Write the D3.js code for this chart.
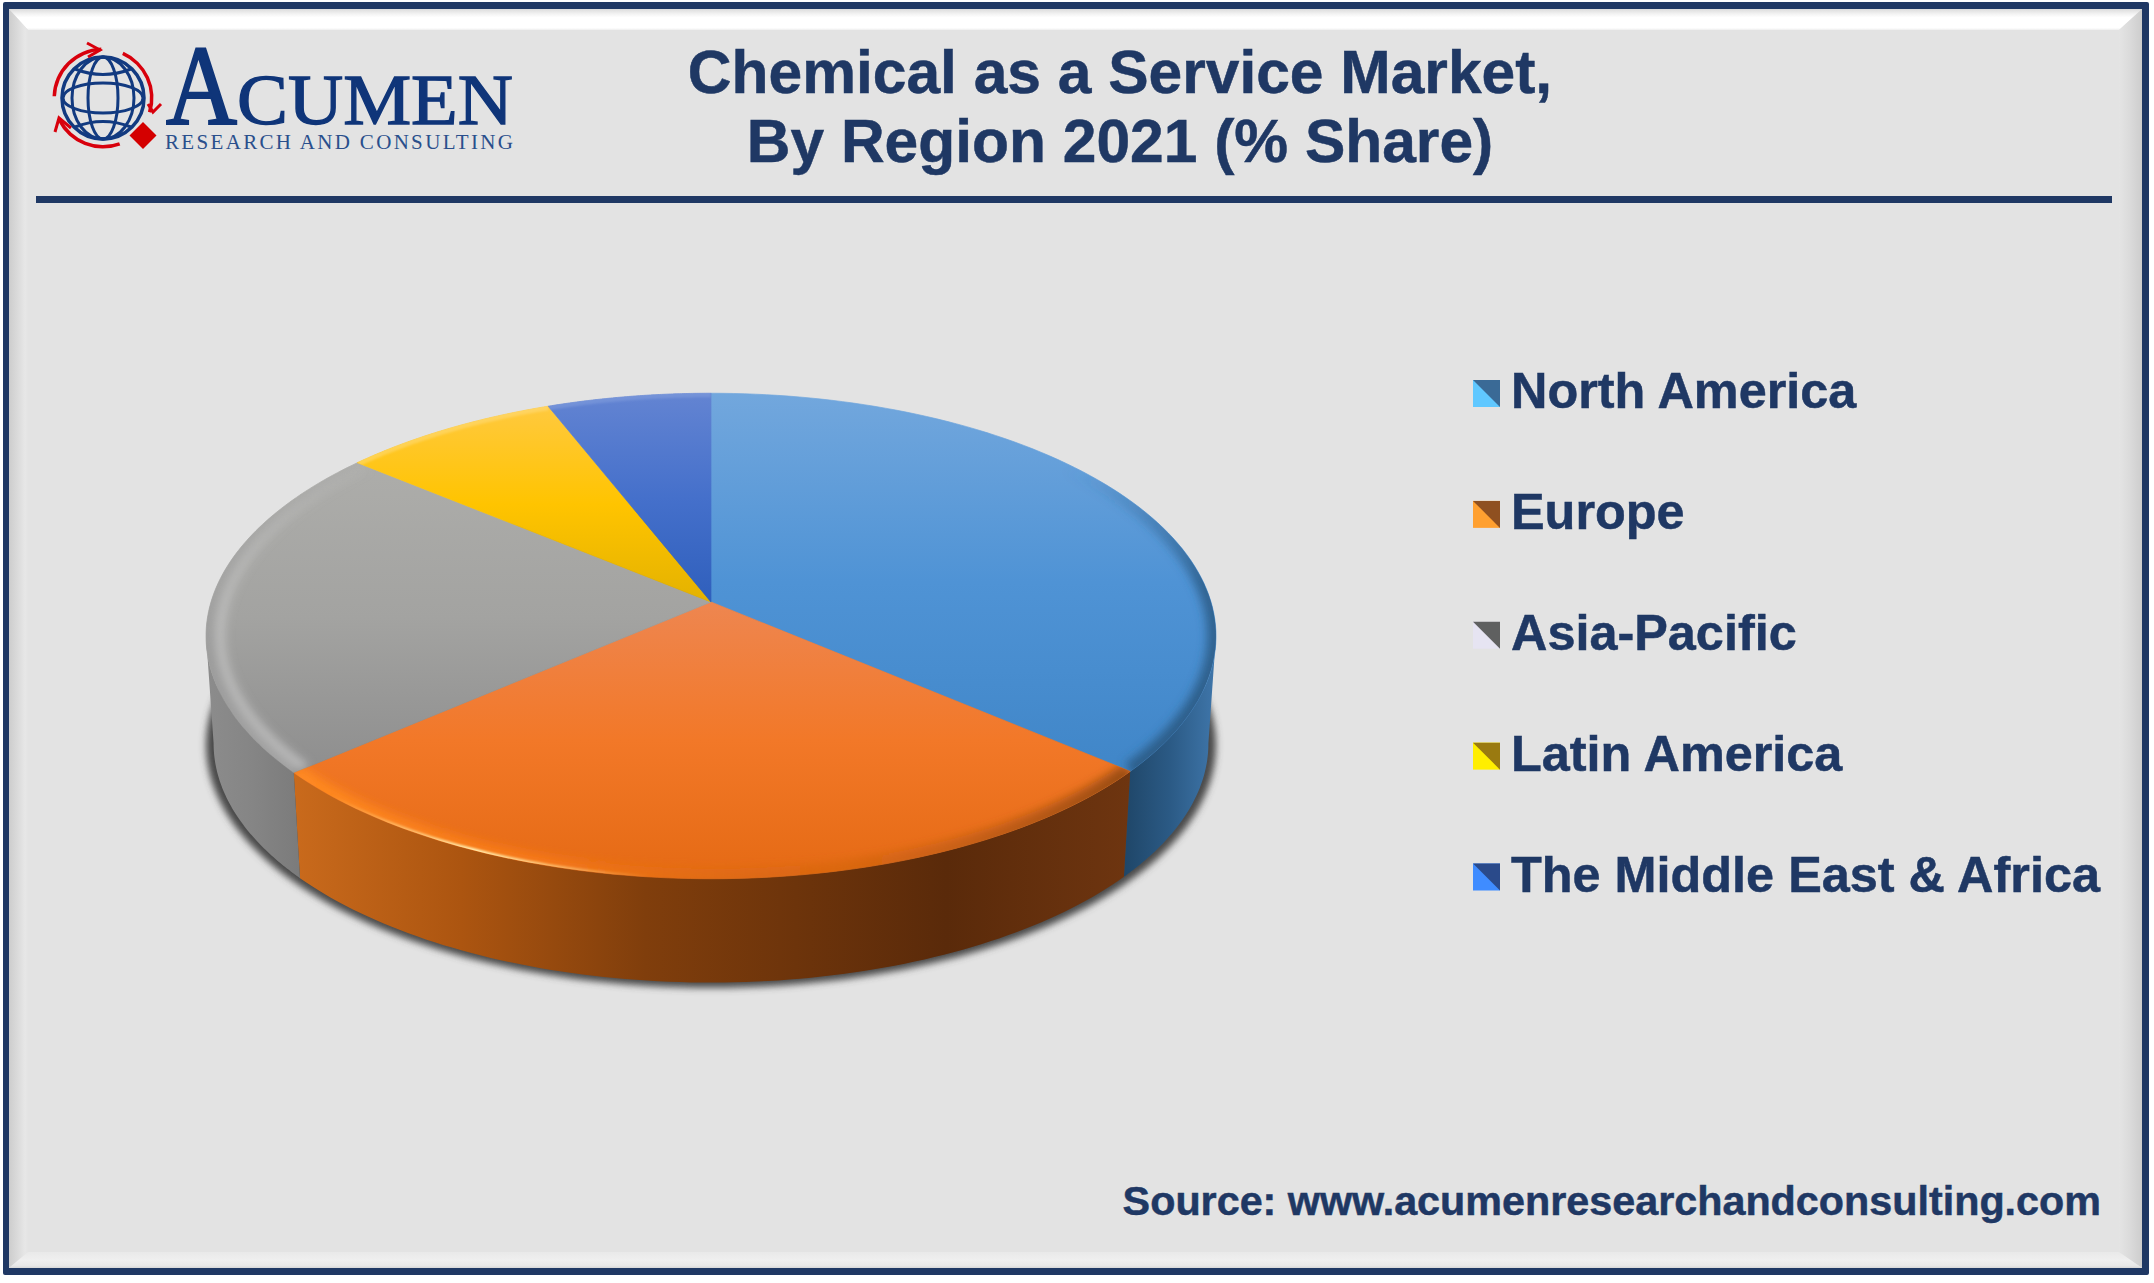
<!DOCTYPE html>
<html><head><meta charset="utf-8">
<script src="https://cdn.jsdelivr.net/npm/d3@7/dist/d3.min.js"></script>
<style>html,body{margin:0;padding:0;background:#fff}svg{display:block}text{font-family:"Liberation Sans",Arial,sans-serif}</style>
</head><body><svg id="c" width="2154" height="1283"></svg>
<script>
const categories=["North America","Europe","Asia-Pacific","Latin America","The Middle East & Africa"];
const shares=[36.2,27.5,22.3,8.0,6.0];
const topColors=[["#72a7dd","#4f93d5","#4086c8"],["#ee8650","#f27828","#e56a14"],["#adadaa","#a3a3a1","#8e8e8e"],["#ffc93f","#ffc400","#e4b200"],["#6384d2","#4570cb","#2f5fbc"]];
const sideStops=[["#1f4668","#2b5a85","#3f76aa"],["#c96a1c","#ac5510","#803e0c","#5a2a0a","#6e3510"],["#8c8c8c","#858585","#7b7b7b"]];
const sideOffsets=[[0,.5,1],[0,.2,.42,.78,1],[0,.5,1]];
const legendTR=["#3a6a96","#8f5020","#5f6060","#9a7a10","#2a4a8a"];
const legendLL=["#60c8ff","#ffa030","#e6e4f2","#ffee00","#3f8cff"];
const navy="#1f3864";

const svg=d3.select("#c"),defs=svg.append("defs");
const W=2154,H=1283;
const grad=(id,x1,y1,x2,y2,stops)=>{const g=defs.append("linearGradient").attr("id",id).attr("gradientUnits","userSpaceOnUse").attr("x1",x1).attr("y1",y1).attr("x2",x2).attr("y2",y2);
  stops.forEach(s=>g.append("stop").attr("offset",s[0]).attr("stop-color",s[1]).attr("stop-opacity",s[2]===undefined?1:s[2]));return `url(#${id})`;};
svg.append("rect").attr("width",W).attr("height",H).attr("fill","#ffffff");
// frame
svg.append("rect").attr("x",3).attr("y",2).attr("width",2146).attr("height",1273).attr("rx",2).attr("fill",navy);
const oL=9,oT=9,oR=2142,oB=1268,iL=28,iT=30,iR=2119,iB=1252;
svg.append("rect").attr("x",oL).attr("y",oT).attr("width",oR-oL).attr("height",oB-oT).attr("fill","#e3e3e3");
const bevel=(pts,f)=>svg.append("polygon").attr("points",pts.map(p=>p.join(",")).join(" ")).attr("fill",f);
bevel([[oL,oT],[oR,oT],[iR,iT],[iL,iT]],grad("bT",0,oT,0,iT,[[0,"#dcdcdc"],[.25,"#f4f4f4"],[.4,"#ffffff"],[.9,"#ffffff"],[1,"#eeeeee"]]));
bevel([[oL,oT],[iL,iT],[iL,iB],[oL,oB]],grad("bL",oL,0,iL,0,[[0,"#cdcdcd"],[.5,"#dcdcdc"],[.85,"#e7e7e7"],[1,"#e3e3e3"]]));
bevel([[oR,oT],[iR,iT],[iR,iB],[oR,oB]],grad("bR",iR,0,oR,0,[[0,"#e4e4e4"],[.5,"#dadada"],[1,"#cdcdcd"]]));
bevel([[oL,oB],[iL,iB],[iR,iB],[oR,oB]],grad("bB",0,iB,0,oB,[[0,"#e9e9e9"],[.5,"#efefef"],[.85,"#e8e8e8"],[1,"#d8d8d8"]]));
svg.append("rect").attr("x",36).attr("y",196).attr("width",2076).attr("height",7).attr("fill",navy);

// titles
const heavy=s=>s.attr("stroke",navy).attr("stroke-width",0.5);
const t=svg.append("g").attr("fill",navy).attr("font-weight","700").attr("text-anchor","middle").call(heavy);
t.append("text").attr("x",1120).attr("y",93).attr("font-size",60.5).text("Chemical as a Service Market,");
t.append("text").attr("x",1120).attr("y",162).attr("font-size",60.5).text("By Region 2021 (% Share)");
svg.append("text").attr("x",2101).attr("y",1215).attr("text-anchor","end").attr("fill",navy).attr("font-weight","700").attr("font-size",41.3).call(heavy).text("Source: www.acumenresearchandconsulting.com");

// logo
const logo=svg.append("g");
logo.append("text").attr("x",166).attr("y",124).attr("font-size",114).attr("fill","#0f3579").attr("stroke","#0f3579").attr("stroke-width",2.2).attr("textLength",71).attr("lengthAdjust","spacingAndGlyphs").style("font-family","Liberation Serif").text("A");
logo.append("text").attr("x",237).attr("y",124).attr("font-size",71).attr("fill","#0f3579").attr("stroke","#0f3579").attr("stroke-width",1.3).attr("textLength",276).attr("lengthAdjust","spacingAndGlyphs").style("font-family","Liberation Serif").text("CUMEN");
logo.append("text").attr("x",165).attr("y",149).attr("font-size",21).attr("fill","#2a4f8c").attr("textLength",348).style("font-family","Liberation Serif").text("RESEARCH AND CONSULTING");
const g=logo.append("g").attr("transform","translate(103,98)").attr("fill","none").attr("stroke","#123a80").attr("stroke-width",3);
g.append("circle").attr("r",41).attr("stroke-width",3.5);
[15,31].forEach(rx=>g.append("ellipse").attr("rx",rx).attr("ry",41));
g.append("ellipse").attr("rx",40).attr("ry",15);
g.append("path").attr("d","M-28,-29Q0,-18 28,-29M-28,29Q0,18 28,29");
const deg=Math.PI/180,redArc=d3.arc().innerRadius(47).outerRadius(50.5);
[[272,358],[384,467],[520,603]].forEach(a=>{
  g.append("path").attr("d",redArc({startAngle:a[0]*deg,endAngle:a[1]*deg})).attr("fill","#d8000c").attr("stroke","none");
});
logo.append("path").attr("d","M143,122L156.5,135.5L143,149L129.5,135.5Z").attr("fill","#d40000");
logo.append("path").attr("d","M87,43L100,50L88,57M148,104L153,112L161,104M55,132L59,118L71,128").attr("fill","none").attr("stroke","#d8000c").attr("stroke-width",3);

// pie geometry
const arcs=d3.pie().sort(null).value(d=>d)(shares);
const TAU=Math.PI*2,K=0.14;
const xTop=d3.scaleLinear().domain([-1,1]).range([211,1211]);
const yTop=d3.scaleLinear().domain([-1,1]).range([364,840]);
function proj(a,sc,dy){
  const u=Math.sin(a),v=-Math.cos(a),w=1-K*v;
  return [711+(xTop(u/w)-711)*sc, dy+602+(yTop(v/w)-602)*sc];
}
const samples=(a0,a1,n=90)=>d3.range(n+1).map(i=>a0+(a1-a0)*i/n);
const line=d3.line();
const sliceTop=d=>line([[711,602],...samples(d.startAngle,d.endAngle).map(a=>proj(a,1,0))])+"Z";
const aR=Math.PI/2+Math.atan(K),aL=TAU-aR;

const blur=(id,s)=>defs.append("filter").attr("id",id).attr("filterUnits","userSpaceOnUse").attr("x",0).attr("y",0).attr("width",W).attr("height",H).append("feGaussianBlur").attr("stdDeviation",s);
blur("sb",3.5);blur("eb",5);blur("fb",0.8);
svg.append("path").attr("d",line(samples(0,TAU,240).map(a=>proj(a,1,109)))+"Z").attr("fill","#4a4a4a").attr("filter","url(#sb)");

// sides
[[aR,arcs[0].endAngle],[arcs[1].startAngle,arcs[1].endAngle],[arcs[2].startAngle,aL]].forEach((r,i)=>{
  const top=samples(r[0],r[1]).map(a=>proj(a,1,0)),bot=samples(r[1],r[0]).map(a=>proj(a,0.985,108));
  const pts=[...top,...bot],xs=d3.extent(pts,p=>p[0]);
  const f=grad("side"+i,xs[0],0,xs[1],0,sideStops[i].map((c,j)=>[sideOffsets[i][j],c]));
  svg.append("path").attr("d",line(pts)+"Z").attr("fill",f);
});

// top faces
const rimPaint=[
  grad("r0",0,470,0,700,[[0,"#2c5d88",0],[.5,"#2c5d88",.85],[1,"#2c5d88",.95]]),
  grad("r1",290,0,1130,0,[[0,"#ff8a20",1],[.3,"#fb7c18",.8],[.65,"#c8600f",.35],[1,"#8a4510",.85]]),
  grad("r2",0,470,0,780,[[0,"#a8a8a8",.2],[.6,"#9c9c9c",.8],[1,"#a4a4a4",.9]]),
  "none","none"];
const faces=svg.append("g");
arcs.forEach((d,i)=>{
  const pts=[[711,602],...samples(d.startAngle,d.endAngle).map(a=>proj(a,1,0))];
  const ys=d3.extent(pts,p=>p[1]);
  const f=grad("top"+i,0,ys[0],0,ys[1],topColors[i].map((c,j)=>[j/2,c]));
  defs.append("clipPath").attr("id","clip"+i).append("path").attr("d",sliceTop(d));
  faces.append("path").attr("d",sliceTop(d)).attr("fill",f).attr("stroke",f).attr("stroke-width",0.7);
});
[3,4,2,0,1].forEach(i=>{
  const d=arcs[i],s=faces.append("g").attr("clip-path",`url(#clip${i})`);
  const rim=line(samples(d.startAngle,d.endAngle).map(a=>proj(a,1,0)));
  if(rimPaint[i]!=="none") s.append("path").attr("d",rim).attr("fill","none").attr("stroke",rimPaint[i]).attr("stroke-width",i===1?20:18).attr("filter","url(#eb)");
  if(i===2){
    s.append("path").attr("d",line(samples(d.startAngle,d.endAngle).map(a=>proj(a,0.972,0)))).attr("fill","none")
      .attr("stroke",grad("r2b",0,470,0,760,[[0,"#d0d0d0",.1],[.5,"#cfcfcf",.6],[1,"#cfcfcf",.7]])).attr("stroke-width",9).attr("filter","url(#eb)");
  }
  if(i===1){
    s.append("path").attr("d",rim).attr("fill","none").attr("stroke",grad("hl",330,0,650,0,[[0,"#ffe9a0",0],[.45,"#fff0b4",1],[1,"#ffe9a0",0]])).attr("stroke-width",4).attr("filter","url(#fb)");
  }
  if(i===3||i===4){
    s.append("path").attr("d",rim).attr("fill","none").attr("stroke",i===3?"#ffe08a":"#8aa4e0").attr("stroke-opacity",.45).attr("stroke-width",8).attr("filter","url(#fb)");
  }
});

// legend
const legendY=d3.scalePoint().domain(categories).range([408,891.5]);
categories.forEach((c,i)=>{
  const y=legendY(c),x0=1473,y0=y-28,s=27;
  svg.append("rect").attr("x",x0).attr("y",y0).attr("width",s).attr("height",s).attr("fill",legendLL[i]);
  svg.append("polygon").attr("points",`${x0},${y0} ${x0+s},${y0} ${x0+s},${y0+s}`).attr("fill",legendTR[i]);
  svg.append("text").attr("x",1511).attr("y",y).attr("fill",navy).attr("font-weight","700").attr("font-size",50.4).call(heavy).text(c);
});
</script></body></html>
